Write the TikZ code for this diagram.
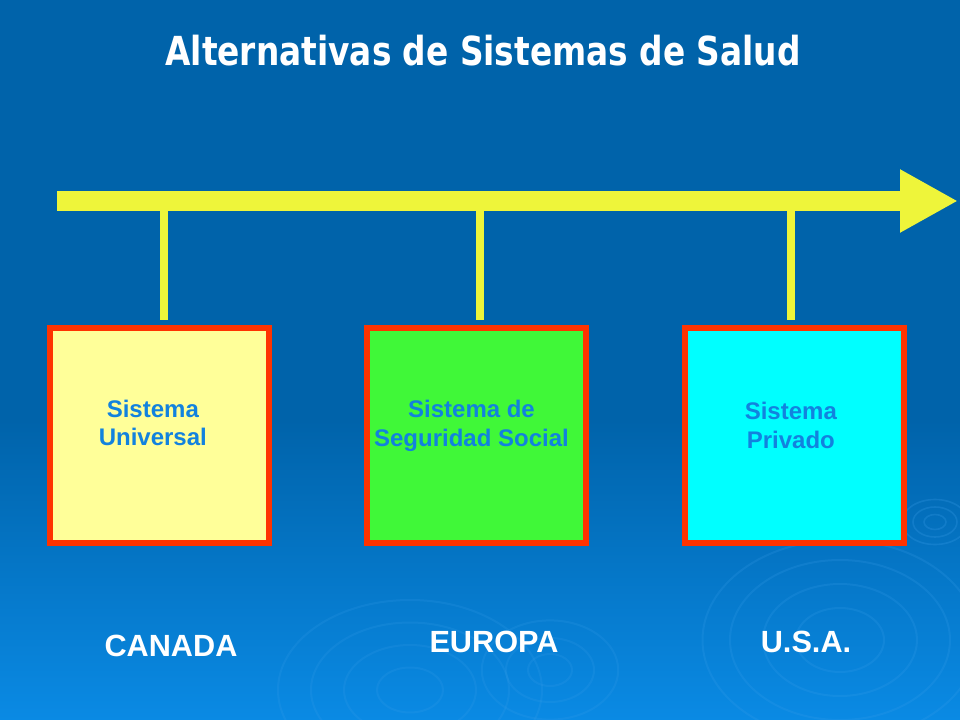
\documentclass[tikz,border=0pt]{standalone}
\usepackage{fontspec}
\setmainfont{Liberation Sans}
\newfontfamily\titlefont[FakeStretch=0.82]{DejaVu Sans}
\usepackage{tikz}
\usetikzlibrary{shapes,arrows,arrows.meta,positioning}

\definecolor{bgtop}{RGB}{0,99,170}
\definecolor{bgbot}{RGB}{10,138,228}
\definecolor{ripple}{RGB}{60,160,235}
\definecolor{axisyellow}{RGB}{238,245,58}
\definecolor{boxred}{RGB}{255,51,0}
\definecolor{boxtext}{RGB}{18,130,222}
\definecolor{fillyellow}{RGB}{255,255,153}
\definecolor{fillgreen}{RGB}{64,248,56}
\definecolor{fillcyan}{RGB}{0,255,255}

\tikzstyle{block} = [rectangle, draw=boxred, line width=4.5pt,
    minimum width=164.25pt, minimum height=161.25pt, inner sep=0pt]
\tikzstyle{boxlabel} = [text=boxtext, font=\bfseries\fontsize{18pt}{21.6pt}\selectfont,
    align=center]
\tikzstyle{country} = [text=white, font=\bfseries\fontsize{23pt}{27pt}\selectfont]
\tikzstyle{axisarrow} = [draw=axisyellow, line width=15pt,
    -{Triangle[length=43.5pt, width=44.25pt]}]
\tikzstyle{stem} = [draw=axisyellow, line width=6.5pt, shorten >=3.75pt]

\begin{document}
\begin{tikzpicture}[x=0.75pt, y=-0.75pt]

    % Background
    \useasboundingbox (0,0) rectangle (960,720);
    \fill [bgtop] (0,0) rectangle (960,720);
    \shade [top color=bgtop, bottom color=bgbot] (0,420) rectangle (960,720);
    \foreach \r in {40,70,100,125}
        \draw [ripple, opacity=0.2, line width=1.5pt] (840,640) ellipse ({\r*1.1} and {\r*0.8});
    \foreach \r in {30,60,90,120}
        \draw [ripple, opacity=0.18, line width=1.5pt] (410,690) ellipse ({\r*1.1} and {\r*0.75});
    \foreach \r in {20,40,62}
        \draw [ripple, opacity=0.18, line width=1.5pt] (550,670) ellipse ({\r*1.1} and {\r*0.8});
    \foreach \r in {10,20,30}
        \draw [ripple, opacity=0.25, line width=1.2pt] (935,522) ellipse ({\r*1.1} and {\r*0.75});

    % Title
    \node [text=white, anchor=base, font=\titlefont\bfseries\fontsize{30pt}{36pt}\selectfont]
        (title) at (483,66) {Alternativas de Sistemas de Salud};

    % Place nodes
    \node [block, fill=fillyellow] (universal) at (159.5,435.5) {};
    \node [block, fill=fillgreen, right of=universal, node distance=238pt] (social) {};
    \node [block, fill=fillcyan, right of=social, node distance=238pt] (privado) {};

    \node [boxlabel] (universaltext) at ([xshift=-5pt, yshift=9.5pt]universal.center)
        {Sistema\\Universal};
    \node [boxlabel] (socialtext) at ([xshift=-4pt, yshift=7pt]social.center)
        {Sistema de\\Seguridad Social};
    \node [boxlabel] (privadotext) at ([xshift=-2.5pt, yshift=7.5pt]privado.center)
        {Sistema\\Privado};

    \node [country] (canada) at (171,646) {CANADA};
    \node [country] (europa) at (494,642) {EUROPA};
    \node [country] (usa) at (806,642) {U.S.A.};

    % Draw edges
    \coordinate (axisstart) at (57,201);
    \coordinate (axisend) at (958,201);
    \coordinate (tick1) at (164,201);
    \coordinate (tick2) at (480,201);
    \coordinate (tick3) at (791,201);

    \path [stem] (tick1) -- (tick1 |- universal.north);
    \path [stem] (tick2) -- (tick2 |- social.north);
    \path [stem] (tick3) -- (tick3 |- privado.north);

    \path [axisarrow] (axisstart) -- (axisend);

\end{tikzpicture}
\end{document}
